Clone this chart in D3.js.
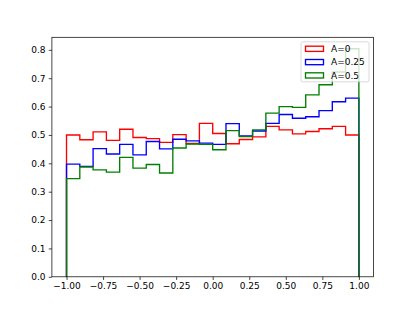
<!DOCTYPE html>
<html>
<head>
<meta charset="utf-8">
<script src="https://cdn.jsdelivr.net/npm/d3@7"></script>
<style>
  body { margin: 0; background: white; }
  svg { display: block; }
  text { font-family: "DejaVu Sans", sans-serif; }
</style>
</head>
<body>
<div id="chart"></div>
<script>
// histogram bins over [-1, 1]
const binStart = -1;
const binEnd = 1;
const binCount = 22;

const seriesNames = ['A=0', 'A=0.25', 'A=0.5'];
const seriesColors = ['#ff0000', '#0000ff', '#008000'];

// bin heights
const valuesA0 = [0.500, 0.483, 0.511, 0.481, 0.520, 0.491, 0.487, 0.474, 0.501, 0.470, 0.541,
                  0.505, 0.469, 0.484, 0.493, 0.530, 0.518, 0.504, 0.512, 0.522, 0.530, 0.500];
const valuesA025 = [0.397, 0.389, 0.452, 0.433, 0.467, 0.430, 0.477, 0.451, 0.485, 0.479, 0.471,
                    0.467, 0.540, 0.497, 0.514, 0.541, 0.572, 0.559, 0.564, 0.586, 0.617, 0.630];
const valuesA05 = [0.346, 0.387, 0.377, 0.369, 0.421, 0.383, 0.396, 0.366, 0.454, 0.468, 0.467,
                   0.448, 0.515, 0.494, 0.518, 0.577, 0.600, 0.597, 0.641, 0.677, 0.722, 0.804];

const xTicks = [-1, -0.75, -0.5, -0.25, 0, 0.25, 0.5, 0.75, 1];
const yTicks = [0, 0.1, 0.2, 0.3, 0.4, 0.5, 0.6, 0.7, 0.8];

const allSeries = [valuesA0, valuesA025, valuesA05];

const width = 415, height = 311;
const margin = {top: 37.3, right: 41.5, bottom: 34.2, left: 51.9};

const svg = d3.select('#chart')
  .append('svg')
  .attr('width', width)
  .attr('height', height)
  .style('background', 'white');

const binW = (binEnd - binStart) / binCount;
const edges = d3.range(binCount + 1).map(i => binStart + i * binW);

const span = binEnd - binStart;
const x = d3.scaleLinear()
  .domain([binStart - span * 0.05, binEnd + span * 0.05])
  .range([margin.left, width - margin.right]);

const yMax = d3.max(allSeries, s => d3.max(s)) * 1.05;
const y = d3.scaleLinear()
  .domain([0, yMax])
  .range([height - margin.bottom, margin.top]);

const fmtX = v => d3.format('.2f')(v).replace('-', '\u2212');
const fmtY = v => d3.format('.1f')(v);

// step histograms
allSeries.forEach((vals, k) => {
  const pts = [[edges[0], 0]];
  vals.forEach((v, i) => {
    pts.push([edges[i], v]);
    pts.push([edges[i + 1], v]);
  });
  pts.push([edges[binCount], 0]);
  svg.append('path')
    .attr('d', d3.line().x(d => x(d[0])).y(d => y(d[1]))(pts))
    .attr('fill', 'none')
    .attr('stroke', seriesColors[k])
    .attr('stroke-width', 1.35)
    .attr('stroke-linejoin', 'miter');
});

// axes
const xAxis = d3.axisBottom(x).tickValues(xTicks).tickFormat(fmtX).tickSize(3.15).tickPadding(3.15);
const yAxis = d3.axisLeft(y).tickValues(yTicks).tickFormat(fmtY).tickSize(3.15).tickPadding(3.15);

const gx = svg.append('g')
  .attr('transform', 'translate(0,' + (height - margin.bottom) + ')')
  .call(xAxis);
const gy = svg.append('g')
  .attr('transform', 'translate(' + margin.left + ',0)')
  .call(yAxis);

[gx, gy].forEach(g => {
  g.select('.domain').remove();
  g.selectAll('.tick line').attr('stroke', 'black').attr('stroke-width', 0.72);
  g.selectAll('.tick text').attr('fill', 'black').style('font-size', '9px').style('font-family', '"DejaVu Sans", sans-serif');
});

// frame
svg.append('rect')
  .attr('x', margin.left)
  .attr('y', margin.top)
  .attr('width', width - margin.left - margin.right)
  .attr('height', height - margin.top - margin.bottom)
  .attr('fill', 'none')
  .attr('stroke', 'black')
  .attr('stroke-width', 0.72);

// legend
const fs = 9;
const legW = 68, legH = 40;
const legX = width - margin.right - fs * 0.5 - legW;
const legY = margin.top + fs * 0.5;

const leg = svg.append('g');
leg.append('rect')
  .attr('x', legX)
  .attr('y', legY)
  .attr('width', legW)
  .attr('height', legH)
  .attr('rx', 1.8)
  .attr('fill', 'white')
  .attr('fill-opacity', 0.8)
  .attr('stroke', '#cccccc')
  .attr('stroke-width', 0.72);

seriesNames.forEach((name, k) => {
  const cy = legY + 7 + k * 13.3;
  leg.append('rect')
    .attr('x', legX + 4.5)
    .attr('y', cy - 2.6)
    .attr('width', 18)
    .attr('height', 5.2)
    .attr('fill', 'none')
    .attr('stroke', seriesColors[k])
    .attr('stroke-width', 1.35);
  leg.append('text')
    .attr('x', legX + 30)
    .attr('y', cy)
    .attr('dy', '0.35em')
    .style('font-size', fs + 'px')
    .attr('fill', 'black')
    .text(name);
});
</script>
</body>
</html>
